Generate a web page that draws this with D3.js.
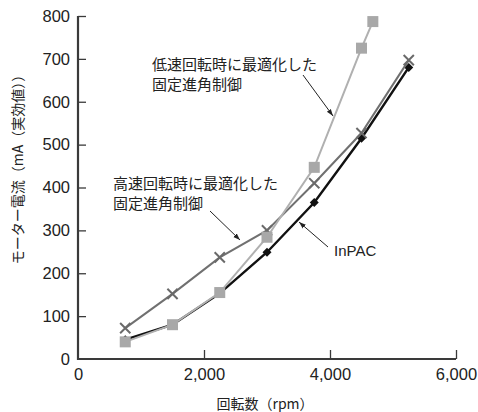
<!DOCTYPE html>
<html><head><meta charset="utf-8">
<script src="https://cdn.jsdelivr.net/npm/d3@7"></script>
<style>
html,body{margin:0;padding:0;background:#fff;}
svg{display:block;}
</style></head>
<body>
<svg id="chart" width="478" height="412"></svg>
<script>
const xTicks = [0, 2000, 4000, 6000];
const yTicks = [0, 100, 200, 300, 400, 500, 600, 700, 800];
const lowRpm = [750, 1500, 2250, 3000, 3750, 4500, 4680];
const lowVals = [40, 80, 155, 284, 447, 725, 787];
const highRpm = [750, 1500, 2250, 3000, 3750, 4500, 5250];
const highVals = [72, 152, 237, 300, 410, 527, 697];
const inpacRpm = [750, 1500, 2250, 3000, 3750, 4500, 5250];
const inpacVals = [45, 80, 153, 249, 365, 515, 680];
const xLabel = "回転数（rpm）";
const yLabel = "モーター電流（mA（実効値））";

const svg = d3.select("#chart");
const x = d3.scaleLinear().domain([0, 6000]).range([78, 456]);
const y = d3.scaleLinear().domain([0, 800]).range([359, 16]);
const numFont = "'Liberation Sans', Arial, sans-serif";
const jpFont = "'Noto Sans CJK JP', sans-serif";
const axisCol = "#3a3a3a";

// axes
const yAxis = svg.append("g").attr("transform", "translate(78,0)")
  .call(d3.axisLeft(y).tickValues(yTicks).tickSize(-8).tickPadding(16));
const xAxis = svg.append("g").attr("transform", "translate(0,359)")
  .call(d3.axisBottom(x).tickValues(xTicks).tickSize(-9).tickPadding(20)
    .tickFormat(d3.format(",")));
[yAxis, xAxis].forEach(g => {
  g.select(".domain").remove();
  g.selectAll(".tick line").attr("stroke", axisCol).attr("stroke-width", 1.3);
  g.selectAll(".tick text").attr("fill", "#222").style("font-family", numFont).style("font-size", "16.5px");
});
yAxis.selectAll(".tick").filter(d => d === 0).select("line").remove();
xAxis.selectAll(".tick").filter(d => d === 0).select("line").remove();
yAxis.selectAll(".tick text").attr("x", -8);
xAxis.selectAll(".tick text").attr("y", 9);
svg.append("line").attr("x1", 78).attr("x2", 78).attr("y1", y(800)).attr("y2", 360)
  .attr("stroke", axisCol).attr("stroke-width", 2.2);
svg.append("line").attr("x1", 77).attr("x2", x(6000)).attr("y1", 359).attr("y2", 359)
  .attr("stroke", axisCol).attr("stroke-width", 2.2);

// axis labels
svg.append("text").attr("x", 265).attr("y", 409).attr("text-anchor", "middle")
  .style("font-family", jpFont).style("font-size", "14px").attr("fill", "#222").text(xLabel);
svg.append("text").attr("transform", "translate(23,166) rotate(-90)").attr("text-anchor", "middle")
  .style("font-family", jpFont).style("font-size", "14px").attr("fill", "#222").text(yLabel);

const line = d3.line().x(d => x(d[0])).y(d => y(d[1]));
const zip = (a, b) => a.map((v, i) => [v, b[i]]);

// InPAC
const inpac = zip(inpacRpm, inpacVals);
svg.append("path").datum(inpac).attr("d", line).attr("fill", "none")
  .attr("stroke", "#111").attr("stroke-width", 2.4);
svg.selectAll(".dia").data(inpac).enter().append("rect")
  .attr("x", -3.2).attr("y", -3.2).attr("width", 6.4).attr("height", 6.4)
  .attr("transform", d => `translate(${x(d[0])},${y(d[1])}) rotate(45)`).attr("fill", "#111");

// high speed
const high = zip(highRpm, highVals);
svg.append("path").datum(high).attr("d", line).attr("fill", "none")
  .attr("stroke", "#707070").attr("stroke-width", 2);
svg.selectAll(".xm").data(high).enter().append("path")
  .attr("d", d3.symbol().type(d3.symbolX).size(70)())
  .attr("transform", d => `translate(${x(d[0])},${y(d[1])})`)
  .attr("fill", "none").attr("stroke", "#6a6a6a").attr("stroke-width", 2);

// low speed
const low = zip(lowRpm, lowVals);
svg.append("path").datum(low).attr("d", line).attr("fill", "none")
  .attr("stroke", "#b0b0b0").attr("stroke-width", 2);
svg.selectAll(".sq").data(low).enter().append("rect")
  .attr("x", d => x(d[0]) - 5.5).attr("y", d => y(d[1]) - 5.5)
  .attr("width", 11).attr("height", 11).attr("fill", "#a8a8a8");

// annotations
const defs = svg.append("defs");
defs.append("marker").attr("id", "ah").attr("viewBox", "0 0 10 10").attr("refX", 10).attr("refY", 5)
  .attr("markerWidth", 7).attr("markerHeight", 7).attr("orient", "auto")
  .append("path").attr("d", "M0,1.5 L10,5 L0,8.5 Z").attr("fill", "#222");

function note(lines, lx, ly, size, font) {
  const t = svg.append("text").attr("x", lx).attr("y", ly)
    .style("font-family", font).style("font-size", size + "px").attr("fill", "#222");
  lines.forEach((s, i) => t.append("tspan").attr("x", lx).attr("dy", i === 0 ? 0 : size * 1.3).text(s));
}
function arrow(x1, y1, x2, y2) {
  svg.append("line").attr("x1", x1).attr("y1", y1).attr("x2", x2).attr("y2", y2)
    .attr("stroke", "#222").attr("stroke-width", 1).attr("marker-end", "url(#ah)");
}
note(["低速回転時に最適化した", "固定進角制御"], 152, 70, 15, jpFont);
arrow(303, 75, 333, 116);
note(["高速回転時に最適化した", "固定進角制御"], 113, 189, 15, jpFont);
arrow(210, 211, 240, 240);
note(["InPAC"], 334, 256, 15, numFont);
arrow(328, 247, 299, 222);
</script>
</body></html>
